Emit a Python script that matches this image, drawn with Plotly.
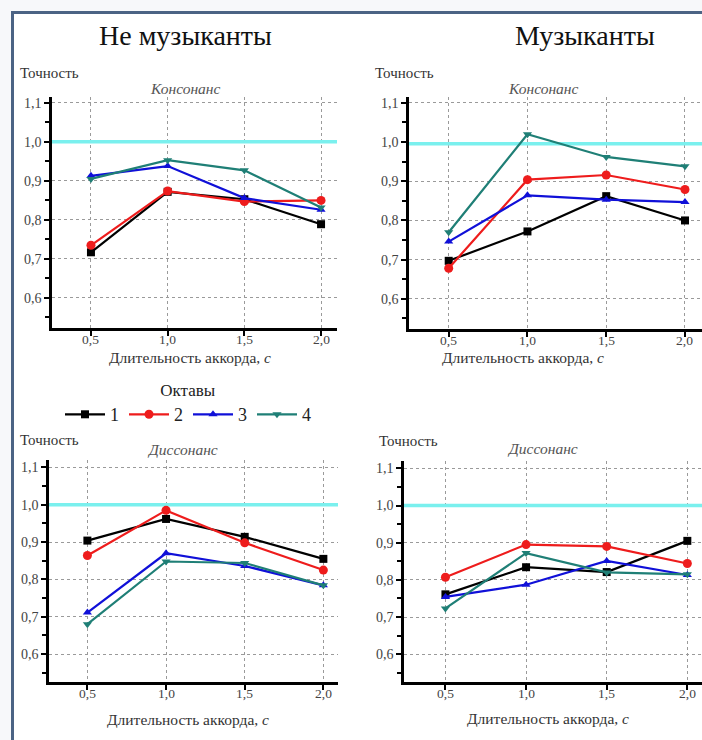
import plotly.graph_objects as go

# ---------------- data ----------------
durations = [0.5, 1.0, 1.5, 2.0]
x_tick_text = ["0,5", "1,0", "1,5", "2,0"]
y_tick_vals = [0.6, 0.7, 0.8, 0.9, 1.0, 1.1]
y_tick_text = ["0,6", "0,7", "0,8", "0,9", "1,0", "1,1"]
octave_names = ["1", "2", "3", "4"]

# Non-musicians, consonance
nm_cons_1 = [0.717, 0.872, 0.853, 0.789]
nm_cons_2 = [0.735, 0.874, 0.847, 0.850]
nm_cons_3 = [0.913, 0.938, 0.856, 0.826]
nm_cons_4 = [0.905, 0.953, 0.927, 0.832]
# Musicians, consonance
m_cons_1 = [0.697, 0.772, 0.862, 0.800]
m_cons_2 = [0.678, 0.904, 0.916, 0.879]
m_cons_3 = [0.746, 0.864, 0.853, 0.847]
m_cons_4 = [0.770, 1.020, 0.962, 0.938]
# Non-musicians, dissonance
nm_diss_1 = [0.904, 0.962, 0.914, 0.855]
nm_diss_2 = [0.864, 0.985, 0.898, 0.825]
nm_diss_3 = [0.711, 0.870, 0.836, 0.784]
nm_diss_4 = [0.680, 0.848, 0.844, 0.784]
# Musicians, dissonance
m_diss_1 = [0.761, 0.834, 0.821, 0.905]
m_diss_2 = [0.807, 0.895, 0.890, 0.844]
m_diss_3 = [0.754, 0.787, 0.851, 0.813]
m_diss_4 = [0.723, 0.872, 0.820, 0.815]

reference_levels = [1.0, 0.996, 1.0, 1.0]

# ---------------- styling ----------------
W, H = 702, 740
SERIF = "Liberation Serif, Times New Roman, serif"
colors = ["#000000", "#ee1c1c", "#1010d8", "#1f7f76"]
symbols = ["square", "circle", "triangle-up", "triangle-down"]

def px(x):
    return x / W

def py(y):
    return 1 - y / H

# panel geometry (pixels): left, right, top, bottom ; x range ; y range
panels = [
    dict(l=52, r=337, t=97, b=328, xr=[0.246, 2.104], yr=[0.523, 1.115]),
    dict(l=409, r=702, t=97, b=329, xr=[0.248, 2.108], yr=[0.523, 1.115]),
    dict(l=49, r=338, t=460, b=682, xr=[0.256, 2.093], yr=[0.525, 1.12]),
    dict(l=404, r=702, t=461, b=682, xr=[0.243, 2.091], yr=[0.525, 1.12]),
]
panel_series = [
    [nm_cons_1, nm_cons_2, nm_cons_3, nm_cons_4],
    [m_cons_1, m_cons_2, m_cons_3, m_cons_4],
    [nm_diss_1, nm_diss_2, nm_diss_3, nm_diss_4],
    [m_diss_1, m_diss_2, m_diss_3, m_diss_4],
]

fig = go.Figure()
layout = dict(
    width=W, height=H, margin=dict(l=0, r=0, t=0, b=0, autoexpand=False),
    paper_bgcolor="#f7f8fa", plot_bgcolor="rgba(0,0,0,0)",
    font=dict(family=SERIF, color="#333"),
    shapes=[], annotations=[],
)

# frame / background
layout["shapes"].append(dict(type="rect", xref="paper", yref="paper",
                             x0=px(13), x1=1.01, y0=-0.01, y1=py(13),
                             fillcolor="white", line=dict(width=0), layer="below"))
layout["shapes"].append(dict(type="line", xref="paper", yref="paper",
                             x0=px(12.5), x1=px(12.5), y0=-0.01, y1=py(11),
                             line=dict(color="#4b6384", width=3), layer="below"))
layout["shapes"].append(dict(type="line", xref="paper", yref="paper",
                             x0=px(11), x1=1.01, y0=py(12.5), y1=py(12.5),
                             line=dict(color="#4b6384", width=3), layer="below"))

for i, (p, series) in enumerate(zip(panels, panel_series)):
    n = "" if i == 0 else str(i + 1)
    xa, ya = "x" + n, "y" + n
    common = dict(showline=True, linecolor="black", linewidth=2.5,
                  ticks="outside", ticklen=5, tickwidth=2, tickcolor="black",
                  showgrid=True, gridcolor="#9a9a9a", griddash="dot", gridwidth=1,
                  zeroline=False, tickfont=dict(family=SERIF, size=14, color="#444"),
                  fixedrange=True)
    layout["xaxis" + n] = dict(common, domain=[px(p["l"]), px(p["r"])], range=p["xr"],
                               anchor=ya, tickvals=durations, showticklabels=False)
    layout["yaxis" + n] = dict(common, domain=[py(p["b"]), py(p["t"])], range=p["yr"],
                               anchor=xa, tickvals=y_tick_vals, ticktext=y_tick_text,
                               minor=dict(dtick=0.05, tick0=0.05, ticks="outside",
                                          ticklen=4, tickwidth=2, tickcolor="black",
                                          showgrid=False))
    # x tick labels placed at data positions just under the axis
    for d, t in zip(durations, x_tick_text):
        layout["annotations"].append(dict(text=t, x=d, xref=xa, y=py(p["b"] + 11), yref="paper",
                                          showarrow=False, xanchor="center", yanchor="middle",
                                          borderpad=0,
                                          font=dict(family=SERIF, size=13.5, color="#444")))
    # reference accuracy level (drawn under the data)
    fig.add_trace(go.Scatter(
        x=p["xr"], y=[reference_levels[i]] * 2, xaxis=xa, yaxis=ya, mode="lines",
        line=dict(color="#7af0ee", width=3.5), showlegend=False, hoverinfo="skip",
        cliponaxis=False))
    for k, vals in enumerate(series):
        fig.add_trace(go.Scatter(
            x=durations, y=vals, xaxis=xa, yaxis=ya, mode="lines+markers",
            name=octave_names[k], legendgroup=octave_names[k], showlegend=(i == 0),
            line=dict(color=colors[k], width=2.2),
            marker=dict(symbol=symbols[k], size=8 if k != 1 else 9, color=colors[k]),
        ))

def ann(text, x, y, size, italic=False, color="#333"):
    if italic:
        text = "<i>" + text + "</i>"
    layout["annotations"].append(dict(text=text, x=px(x), y=py(y), xref="paper", yref="paper",
                                      showarrow=False, xanchor="center", yanchor="middle",
                                      borderpad=0,
                                      font=dict(family=SERIF, size=size, color=color)))

ann("Не музыканты", 185, 36, 28, color="#111")
ann("Музыканты", 585, 36, 28, color="#111")
for (x, y) in [(49, 73), (405, 73), (49, 440), (408, 441)]:
    ann("Точность", x, y, 15)
for (x, y) in [(185, 88), (543, 88)]:
    ann("Консонанс", x, y, 15.5, italic=True, color="#555")
for (x, y) in [(182, 449), (542, 448)]:
    ann("Диссонанс", x, y, 15.5, italic=True, color="#555")
for (x, y) in [(190, 357), (523, 357), (188, 719), (548, 718)]:
    ann("Длительность аккорда, <i>с</i>", x, y, 15.5)

layout["legend"] = dict(orientation="h", x=px(188), xanchor="center",
                        y=py(374), yanchor="top", bgcolor="rgba(0,0,0,0)",
                        font=dict(family=SERIF, size=18, color="#222"),
                        itemwidth=40, tracegroupgap=0,
                        title=dict(text="Октавы", side="top center",
                                   font=dict(family=SERIF, size=17, color="#222")))

fig.update_layout(**layout)
fig.write_html("out.html", post_script="document.body.style.margin='0';",
               config={"displayModeBar": False})
